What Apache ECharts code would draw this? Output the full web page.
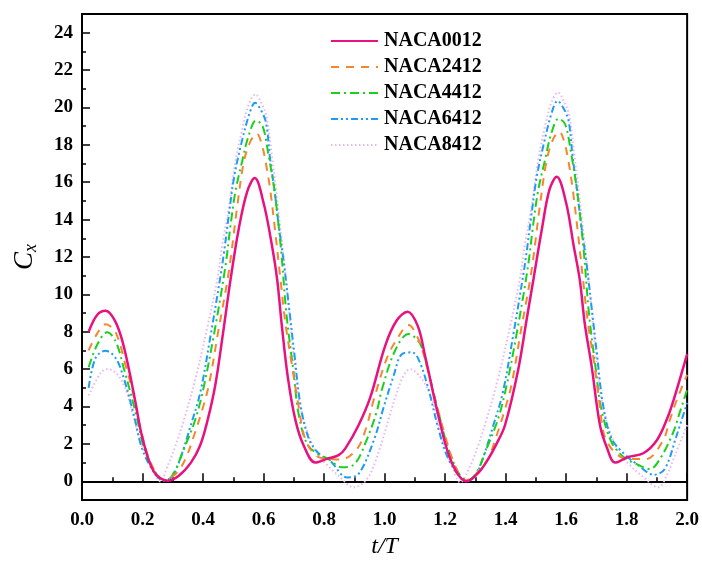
<!DOCTYPE html>
<html><head><meta charset="utf-8">
<script src="https://cdn.jsdelivr.net/npm/echarts@6/dist/echarts.min.js"></script>
<style>html,body{margin:0;padding:0;background:#fff}#c{width:702px;height:572px}</style>
</head><body><div id="c"></div>
<script>
const seriesNames = ['NACA0012', 'NACA2412', 'NACA4412', 'NACA6412', 'NACA8412'];

const t0012 = [0.022, 0.05, 0.078, 0.105, 0.13, 0.155, 0.177, 0.2, 0.238, 0.282, 0.32, 0.36, 0.39, 0.414, 0.44, 0.465, 0.491, 0.518, 0.546, 0.571, 0.6, 0.628, 0.645, 0.66, 0.68, 0.705, 0.733, 0.771, 0.81, 0.848, 0.87, 0.914, 0.953, 1.002, 1.04, 1.076, 1.11, 1.134, 1.178, 1.222, 1.272, 1.31, 1.343, 1.37, 1.398, 1.442, 1.47, 1.492, 1.52, 1.545, 1.569, 1.6, 1.625, 1.645, 1.662, 1.684, 1.712, 1.735, 1.762, 1.805, 1.855, 1.9, 1.935, 1.96, 2.0];
const v0012 = [8.0, 8.9, 9.12, 8.7, 7.7, 6.0, 4.2, 2.3, 0.5, 0.03, 0.3, 1.0, 1.9, 3.2, 5.1, 7.8, 10.8, 13.5, 15.5, 16.22, 14.9, 12.6, 10.8, 8.4, 5.6, 3.3, 1.9, 1.0, 1.2, 1.4, 1.75, 3.0, 4.5, 7.25, 8.6, 9.07, 8.3, 6.7, 3.5, 1.0, 0.0, 0.45, 1.2, 2.0, 3.0, 6.0, 8.7, 10.8, 13.5, 15.6, 16.29, 14.9, 12.6, 10.8, 8.4, 6.2, 3.0, 1.8, 1.0, 1.3, 1.5, 2.2, 3.4, 4.6, 6.8];

const t2412 = [0.022, 0.05, 0.078, 0.111, 0.144, 0.166, 0.194, 0.227, 0.27, 0.31, 0.342, 0.37, 0.397, 0.42, 0.45, 0.485, 0.513, 0.535, 0.557, 0.578, 0.593, 0.608, 0.622, 0.639, 0.656, 0.672, 0.694, 0.716, 0.738, 0.776, 0.82, 0.854, 0.909, 0.938, 0.965, 1.008, 1.041, 1.079, 1.112, 1.145, 1.167, 1.2, 1.233, 1.266, 1.3, 1.342, 1.37, 1.397, 1.42, 1.45, 1.485, 1.513, 1.535, 1.557, 1.578, 1.593, 1.608, 1.622, 1.639, 1.656, 1.672, 1.694, 1.712, 1.73, 1.783, 1.82, 1.865, 1.92, 1.942, 1.967, 2.0];
const v2412 = [7.0, 7.9, 8.4, 7.97, 6.2, 4.9, 2.8, 1.0, 0.1, 0.4, 1.2, 2.44, 3.8, 5.2, 8.0, 11.2, 14.7, 17.1, 18.2, 18.6, 18.1, 17.0, 15.6, 13.3, 10.8, 8.5, 6.2, 4.0, 2.26, 1.34, 1.2, 1.16, 1.73, 2.8, 4.4, 6.6, 7.6, 8.36, 7.6, 5.83, 4.4, 2.44, 0.84, 0.05, 0.35, 1.2, 2.44, 3.8, 5.2, 8.0, 11.2, 14.7, 17.1, 18.3, 18.7, 18.2, 17.1, 15.6, 13.3, 10.8, 8.5, 6.2, 4.0, 2.3, 1.28, 1.2, 1.19, 2.17, 3.24, 4.4, 5.7];

const t4412 = [0.022, 0.05, 0.083, 0.111, 0.139, 0.177, 0.21, 0.254, 0.28, 0.305, 0.337, 0.375, 0.403, 0.44, 0.474, 0.491, 0.507, 0.529, 0.551, 0.575, 0.597, 0.617, 0.634, 0.645, 0.659, 0.676, 0.698, 0.716, 0.744, 0.78, 0.815, 0.859, 0.901, 0.942, 0.975, 0.991, 1.035, 1.079, 1.118, 1.145, 1.178, 1.211, 1.25, 1.275, 1.305, 1.337, 1.375, 1.403, 1.44, 1.474, 1.491, 1.507, 1.529, 1.551, 1.575, 1.597, 1.617, 1.634, 1.645, 1.659, 1.676, 1.698, 1.716, 1.75, 1.79, 1.83, 1.877, 1.91, 1.954, 1.976, 2.0];
const v4412 = [6.1, 7.3, 7.97, 7.5, 6.0, 3.7, 1.55, 0.21, 0.05, 0.5, 1.73, 3.33, 5.1, 8.2, 11.5, 13.7, 15.5, 17.1, 18.5, 19.3, 19.0, 17.4, 15.8, 14.4, 12.2, 8.9, 6.0, 3.6, 2.0, 1.45, 1.19, 0.75, 0.93, 2.26, 3.78, 4.9, 7.0, 7.88, 7.34, 5.83, 3.7, 1.73, 0.3, 0.05, 0.5, 1.73, 3.33, 5.1, 8.2, 11.5, 13.7, 15.5, 17.1, 18.6, 19.4, 19.1, 17.5, 15.8, 14.4, 12.2, 8.9, 6.0, 3.9, 2.1, 1.3, 0.95, 0.66, 1.19, 2.62, 3.7, 4.9];

const t6412 = [0.022, 0.045, 0.078, 0.111, 0.139, 0.172, 0.199, 0.238, 0.27, 0.3, 0.326, 0.359, 0.391, 0.425, 0.458, 0.469, 0.485, 0.502, 0.524, 0.554, 0.572, 0.59, 0.608, 0.622, 0.636, 0.65, 0.667, 0.685, 0.702, 0.722, 0.75, 0.782, 0.82, 0.876, 0.914, 0.964, 0.997, 1.03, 1.057, 1.09, 1.112, 1.145, 1.178, 1.211, 1.255, 1.275, 1.3, 1.326, 1.359, 1.391, 1.425, 1.458, 1.469, 1.485, 1.502, 1.524, 1.554, 1.572, 1.59, 1.608, 1.622, 1.636, 1.65, 1.667, 1.685, 1.702, 1.722, 1.75, 1.79, 1.833, 1.89, 1.926, 1.965, 2.0];
const v6412 = [5.0, 6.6, 6.98, 6.6, 5.47, 3.5, 1.73, 0.48, 0.03, 0.3, 1.28, 2.97, 4.76, 7.8, 11.0, 12.2, 14.2, 16.2, 17.9, 19.7, 20.25, 19.9, 19.2, 17.2, 15.6, 13.7, 11.7, 9.2, 6.8, 4.1, 2.26, 1.5, 1.1, 0.21, 0.39, 2.17, 3.96, 5.65, 6.8, 6.9, 6.54, 4.94, 2.8, 1.19, 0.12, 0.03, 0.3, 1.28, 2.97, 4.76, 7.8, 11.0, 12.2, 14.2, 16.2, 17.9, 19.8, 20.35, 20.0, 19.3, 17.3, 15.6, 13.7, 11.7, 9.2, 6.8, 4.1, 2.3, 1.5, 0.93, 0.35, 0.66, 2.44, 4.2];

const t8412 = [0.022, 0.062, 0.083, 0.116, 0.144, 0.166, 0.194, 0.227, 0.258, 0.285, 0.309, 0.337, 0.375, 0.415, 0.447, 0.463, 0.486, 0.507, 0.529, 0.552, 0.573, 0.594, 0.61, 0.627, 0.642, 0.656, 0.67, 0.685, 0.7, 0.72, 0.755, 0.782, 0.815, 0.848, 0.898, 0.942, 0.98, 1.013, 1.057, 1.085, 1.123, 1.156, 1.184, 1.222, 1.25, 1.285, 1.309, 1.337, 1.375, 1.415, 1.447, 1.463, 1.486, 1.507, 1.529, 1.552, 1.573, 1.594, 1.61, 1.627, 1.642, 1.656, 1.67, 1.685, 1.7, 1.72, 1.755, 1.782, 1.815, 1.85, 1.904, 1.935, 1.959, 2.0];
const v8412 = [4.6, 5.8, 6.0, 5.74, 4.94, 3.7, 2.08, 0.84, 0.0, 0.9, 1.9, 3.3, 5.5, 8.3, 10.8, 12.6, 14.7, 17.1, 18.8, 20.2, 20.7, 20.2, 19.5, 17.5, 15.5, 13.5, 11.5, 9.0, 6.6, 4.1, 2.2, 1.37, 0.8, 0.3, -0.32, 0.12, 1.55, 3.3, 5.47, 6.0, 5.47, 4.4, 2.62, 0.84, -0.05, 0.9, 1.9, 3.3, 5.5, 8.3, 10.8, 12.6, 14.7, 17.1, 18.9, 20.3, 20.8, 20.3, 19.6, 17.5, 15.5, 13.5, 11.5, 9.0, 6.6, 4.1, 2.2, 1.37, 0.8, 0.3, -0.32, 0.4, 1.37, 3.0];

const yMajorTicks = [0, 2, 4, 6, 8, 10, 12, 14, 16, 18, 20, 22, 24];
const yMinorTicks = [1, 3, 5, 7, 9, 11, 13, 15, 17, 19, 21, 23];

const tArrays = [t0012, t2412, t4412, t6412, t8412];
const vArrays = [v0012, v2412, v4412, v6412, v8412];
const colors = ['#E8117E', '#F5862F', '#19D11B', '#1E9BF5', '#EBB5F2'];
const widths = [2.5, 2, 2, 2, 2];
const dashes = ['solid', [8, 7], [9, 4, 2, 4], [7, 3, 2, 3, 2, 3], [1.5, 2.5]];

const FONT = '"Liberation Serif", "Times New Roman", serif';

const series = seriesNames.map((n, i) => ({
  name: n,
  type: 'line',
  smooth: 0.35,
  symbol: 'none',
  showSymbol: false,
  z: 10 - i,
  data: tArrays[i].map((t, k) => [t, vArrays[i][k]]),
  lineStyle: { color: colors[i], width: widths[i], type: dashes[i] },
  itemStyle: { color: colors[i] }
}));

const chart = echarts.init(document.getElementById('c'), null, { renderer: 'canvas' });
chart.setOption({
  animation: false,
  backgroundColor: '#fff',
  grid: { left: 82, right: 13, top: 14, bottom: 72, show: true, borderColor: '#000', borderWidth: 2, containLabel: false },
  legend: {
    orient: 'vertical',
    left: 330, top: 31, padding: 0,
    itemWidth: 47, itemHeight: 14, itemGap: 6,
    data: seriesNames,
    itemStyle: { opacity: 0 },
    textStyle: { fontFamily: FONT, fontWeight: 'bold', fontSize: 20, color: '#000', padding: [0, 0, 0, 1] }
  },
  xAxis: {
    type: 'value', min: 0, max: 2, interval: 0.2,
    name: 't/T', nameLocation: 'middle', nameGap: 34,
    nameTextStyle: { fontFamily: FONT, fontStyle: 'italic', fontSize: 24, color: '#000' },
    axisLine: { show: true, lineStyle: { color: '#000', width: 2 } },
    axisTick: { show: true, inside: true, length: 8, lineStyle: { color: '#000', width: 1.5 } },
    minorTick: { show: true, splitNumber: 2, length: 4, lineStyle: { color: '#000', width: 1.5 } },
    splitLine: { show: false },
    axisLabel: { fontFamily: FONT, fontWeight: 'bold', fontSize: 19, color: '#000', margin: 11,
      formatter: v => v.toFixed(1) }
  },
  yAxis: [{
    type: 'value', min: -1, max: 25,
    name: '{c|C}{s|x}', nameLocation: 'middle', nameGap: 42, nameRotate: 90,
    nameTextStyle: {
      color: '#000',
      rich: {
        c: { fontFamily: FONT, fontStyle: 'italic', fontSize: 27, color: '#000' },
        s: { fontFamily: FONT, fontStyle: 'italic', fontSize: 18, color: '#000', verticalAlign: 'bottom', padding: [12, 0, 0, 0] }
      }
    },
    axisLine: { show: true, onZero: false, lineStyle: { color: '#000', width: 2 } },
    axisTick: { show: true, inside: true, length: 8, customValues: yMajorTicks, lineStyle: { color: '#000', width: 1.5 } },
    splitLine: { show: false },
    axisLabel: { fontFamily: FONT, fontWeight: 'bold', fontSize: 19, color: '#000', margin: 9, customValues: yMajorTicks }
  }, {
    type: 'value', min: -1, max: 25, position: 'left',
    axisLine: { show: false },
    axisTick: { show: true, inside: true, length: 4, customValues: yMinorTicks, lineStyle: { color: '#000', width: 1.5 } },
    axisLabel: { show: false },
    splitLine: { show: false }
  }],
  series: series
});
</script>
</body></html>
